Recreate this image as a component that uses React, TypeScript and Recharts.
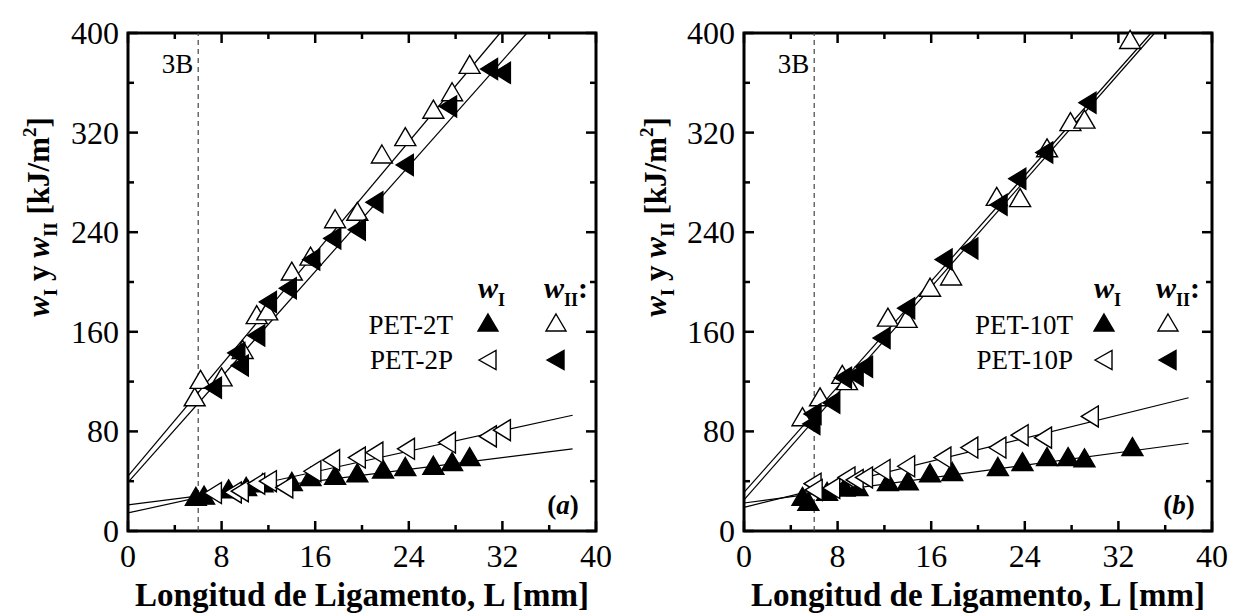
import React from 'react';
import { ScatterChart, Scatter, XAxis, YAxis, ReferenceLine, ReferenceArea } from 'recharts';

const FONT = '"Liberation Serif", "Times New Roman", serif';

// axis ticks (minor + major) and labelled values
const xTicks = [0, 4, 8, 12, 16, 20, 24, 28, 32, 36, 40];
const yTicks = [0, 40, 80, 120, 160, 200, 240, 280, 320, 360, 400];
const xLabelStep = 8;
const yLabelStep = 80;

type P = { x: number; y: number };
const pts = (a: number[][]): P[] => a.map(([x, y]) => ({ x, y }));

// ---- panel (a): PET-2T / PET-2P ----
const pet2T_wII = pts([[5.7, 107], [6.2, 121], [8.0, 123], [9.8, 145], [11.0, 173], [11.9, 176], [14.0, 208], [15.6, 220], [17.7, 250], [19.6, 256], [21.7, 302], [23.7, 316], [26.1, 338], [27.7, 352], [29.2, 374]]);
const pet2P_wII = pts([[7.3, 115], [9.3, 143], [9.6, 133], [11.0, 157], [12.0, 184], [13.7, 195], [15.7, 218], [17.5, 235], [19.6, 242], [21.1, 264], [23.7, 294], [27.4, 341], [30.9, 371], [32.0, 368]]);
const pet2T_wI = pts([[5.8, 27], [6.5, 28], [8.6, 33], [10.1, 35], [11.5, 38], [14.0, 39], [15.6, 43], [17.7, 44], [19.6, 46], [21.8, 49], [23.7, 51], [26.1, 52], [27.7, 55], [29.2, 59]]);
const pet2P_wI = pts([[7.3, 30.5], [9.0, 31], [9.6, 32], [11.0, 38], [12.0, 40], [13.4, 35], [15.8, 48], [17.4, 57], [19.6, 59], [21.1, 63], [23.8, 66], [27.3, 71], [30.8, 76], [32.0, 81]]);
const fit2T_wII = pts([[0, 44], [31.8, 400]]);
const fit2P_wII = pts([[0, 39], [34.1, 400]]);
const fit2T_wI = pts([[0, 21], [38, 66]]);
const fit2P_wI = pts([[0, 14.5], [38, 93]]);

// ---- panel (b): PET-10T / PET-10P ----
const pet10T_wII = pts([[5.0, 91], [6.5, 107], [8.4, 125], [8.8, 120], [12.3, 171], [13.9, 170], [15.9, 195], [17.7, 204], [21.6, 268], [23.6, 267], [25.9, 307], [27.9, 328], [29.1, 330], [33.0, 394]]);
const pet10P_wII = pts([[5.8, 86], [5.9, 94], [7.5, 103], [8.5, 123], [9.5, 125], [10.3, 132], [11.8, 155], [13.9, 179], [17.1, 218], [19.3, 227], [21.8, 262], [23.4, 283], [25.7, 304], [29.4, 344]]);
const pet10T_wI = pts([[5.0, 27], [5.5, 23], [7.1, 31], [8.6, 34.5], [9.7, 35], [12.3, 39], [14.0, 39.5], [15.9, 46], [17.8, 47], [21.7, 51], [23.8, 55], [25.9, 59], [27.7, 59], [29.1, 58], [33.2, 67]]);
const pet10P_wI = pts([[5.9, 38], [6.0, 33], [7.5, 34.5], [8.8, 43], [9.5, 41], [10.3, 43], [11.8, 49], [13.9, 52], [17.0, 59], [19.3, 67], [21.7, 67], [23.6, 77], [25.6, 75], [29.6, 92]]);
const fit10T_wII = pts([[0, 31], [34.8, 400]]);
const fit10P_wII = pts([[0, 25], [35.1, 400]]);
const fit10T_wI = pts([[0, 22.5], [38, 70.5]]);
const fit10P_wI = pts([[0, 19], [38, 107]]);

const limitX = 6; // 3B limit

const M = 8;
const PW = 468;
const PH = 498;

const XTick = (props: any) => {
  const { x, y, payload } = props;
  const v = payload.value;
  const bottom = y - M;
  const top = bottom - PH;
  const major = v % xLabelStep === 0;
  const len = major ? 10 : 6;
  return (
    <g>
      <line x1={x} x2={x} y1={bottom} y2={bottom - len} stroke="#000" strokeWidth={2.5} />
      <line x1={x} x2={x} y1={top} y2={top + len} stroke="#000" strokeWidth={2.5} />
      {major && (
        <text x={x} y={bottom + 36} textAnchor="middle" fontSize={32} fontFamily={FONT} fill="#000">{v}</text>
      )}
    </g>
  );
};

const YTick = (props: any) => {
  const { x, y, payload } = props;
  const v = payload.value;
  const left = x + M;
  const right = left + PW;
  const major = v % yLabelStep === 0;
  const len = major ? 10 : 6;
  return (
    <g>
      <line x1={left} x2={left + len} y1={y} y2={y} stroke="#000" strokeWidth={2.5} />
      <line x1={right} x2={right - len} y1={y} y2={y} stroke="#000" strokeWidth={2.5} />
      {major && (
        <text x={left - 9} y={y + 11} textAnchor="end" fontSize={32} fontFamily={FONT} fill="#000">{v}</text>
      )}
    </g>
  );
};

const upTri = (fill: string) => (p: any) => (
  <polygon points={`${p.cx},${p.cy - 10} ${p.cx + 10.5},${p.cy + 8} ${p.cx - 10.5},${p.cy + 8}`} fill={fill} stroke="#000" strokeWidth={1.4} />
);
const leftTri = (fill: string) => (p: any) => (
  <polygon points={`${p.cx - 9},${p.cy} ${p.cx + 8},${p.cy - 10.5} ${p.cx + 8},${p.cy + 10.5}`} fill={fill} stroke="#000" strokeWidth={1.4} />
);
const noDot = () => <g />;

const LegUp = ({ x, y, fill }: any) => (
  <polygon points={`${x},${y - 9} ${x + 10},${y + 8} ${x - 10},${y + 8}`} fill={fill} stroke="#000" strokeWidth={1.4} />
);
const LegLeft = ({ x, y, fill }: any) => (
  <polygon points={`${x - 9},${y} ${x + 8},${y - 9.5} ${x + 8},${y + 9.5}`} fill={fill} stroke="#000" strokeWidth={1.4} />
);

interface PanelProps {
  left: number;
  marginLeft: number;
  marginRight: number;
  names: [string, string];
  letter: string;
  tWI: P[]; tWII: P[]; pWI: P[]; pWII: P[];
  fits: P[][];
  leg: { textEnd: number; m1: number; m2: number };
}

const Panel = ({ left, marginLeft, marginRight, names, letter, tWI, tWII, pWI, pWII, fits, leg }: PanelProps) => {
  const r1 = 325;
  const r2 = 360;
  return (
    <div style={{ position: 'absolute', left, top: 0, width: 617, height: 615 }}>
      <ScatterChart width={617} height={615} margin={{ top: 33, right: marginRight, bottom: 34, left: marginLeft }}>
        <XAxis type="number" dataKey="x" domain={[0, 40]} ticks={xTicks} interval={0} tickSize={0} tickMargin={M}
          axisLine={false} tickLine={false} tick={(p: any) => <XTick {...p} />} height={50} />
        <YAxis type="number" dataKey="y" domain={[0, 400]} ticks={yTicks} interval={0} tickSize={0} tickMargin={M}
          axisLine={false} tickLine={false} tick={(p: any) => <YTick {...p} />} width={70} />
        <ReferenceLine x={limitX} stroke="#444" strokeDasharray="5 4" strokeWidth={1.2}
          label={(p: any) => (
            <text x={p.viewBox.x - 5} y={p.viewBox.y + 40} textAnchor="end" fontSize={27} fontFamily={FONT} fill="#000">3B</text>
          )} />
        {fits.map((f, i) => (
          <Scatter key={i} data={f} line={{ stroke: '#000', strokeWidth: 1.2 }} shape={noDot} isAnimationActive={false} />
        ))}
        <Scatter data={tWI} shape={upTri('#000')} isAnimationActive={false} />
        <Scatter data={pWI} shape={leftTri('#fff')} isAnimationActive={false} />
        <Scatter data={tWII} shape={upTri('#fff')} isAnimationActive={false} />
        <Scatter data={pWII} shape={leftTri('#000')} isAnimationActive={false} />
        <ReferenceArea x1={0} x2={40} y1={0} y2={400} fill="none" fillOpacity={0} stroke="#000" strokeWidth={3} ifOverflow="visible" />
      </ScatterChart>
      <svg width={617} height={615} style={{ position: 'absolute', left: 0, top: 0, pointerEvents: 'none' }} fontFamily={FONT}>
        {/* y axis title */}
        <text transform="translate(49,217) rotate(-90)" textAnchor="middle" fontSize={31} fontWeight="bold" fill="#000">
          <tspan fontStyle="italic">w</tspan>
          <tspan fontSize={19} dy={8}>I</tspan>
          <tspan dy={-8}> y </tspan>
          <tspan fontStyle="italic">w</tspan>
          <tspan fontSize={19} dy={8}>II</tspan>
          <tspan dy={-8}> [kJ/m</tspan>
          <tspan fontSize={19} dy={-13}>2</tspan>
          <tspan dy={13}>]</tspan>
        </text>
        {/* x axis title */}
        <text x={marginLeft + 70 + PW / 2} y={606} textAnchor="middle" fontSize={33} fontWeight="bold" fill="#000">
          Longitud de Ligamento, L [mm]
        </text>
        {/* legend */}
        <text x={leg.m1 - 10} y={298} fontSize={30} fontWeight="bold" fill="#000">
          <tspan fontStyle="italic">w</tspan>
          <tspan fontSize={18} dy={8}>I</tspan>
        </text>
        <text x={leg.m2 - 12} y={298} fontSize={30} fontWeight="bold" fill="#000">
          <tspan fontStyle="italic">w</tspan>
          <tspan fontSize={18} dy={8}>II</tspan>
          <tspan dy={-8}>:</tspan>
        </text>
        <text x={leg.textEnd} y={r1 + 9} textAnchor="end" fontSize={27} fill="#000">{names[0]}</text>
        <text x={leg.textEnd} y={r2 + 9} textAnchor="end" fontSize={27} fill="#000">{names[1]}</text>
        <LegUp x={leg.m1} y={r1 - 2} fill="#000" />
        <LegUp x={leg.m2} y={r1 - 2} fill="#fff" />
        <LegLeft x={leg.m1} y={r2} fill="#fff" />
        <LegLeft x={leg.m2} y={r2} fill="#000" />
        {/* panel letter */}
        <text x={marginLeft + 70 + PW - 33} y={514} textAnchor="middle" fontSize={27} fontWeight="bold" fill="#000">
          (<tspan fontStyle="italic">{letter}</tspan>)
        </text>
      </svg>
    </div>
  );
};

export default function App() {
  return (
    <div style={{ position: 'absolute', left: 0, top: 0, width: 1234, height: 615, background: '#fff' }}>
      <Panel left={0} marginLeft={58} marginRight={21} names={['PET-2T', 'PET-2P']} letter="a"
        tWI={pet2T_wI} tWII={pet2T_wII} pWI={pet2P_wI} pWII={pet2P_wII}
        fits={[fit2T_wII, fit2P_wII, fit2T_wI, fit2P_wI]}
        leg={{ textEnd: 453, m1: 488, m2: 556 }} />
      <Panel left={617} marginLeft={57} marginRight={22} names={['PET-10T', 'PET-10P']} letter="b"
        tWI={pet10T_wI} tWII={pet10T_wII} pWI={pet10P_wI} pWII={pet10P_wII}
        fits={[fit10T_wII, fit10P_wII, fit10T_wI, fit10P_wI]}
        leg={{ textEnd: 456, m1: 487, m2: 551 }} />
    </div>
  );
}
